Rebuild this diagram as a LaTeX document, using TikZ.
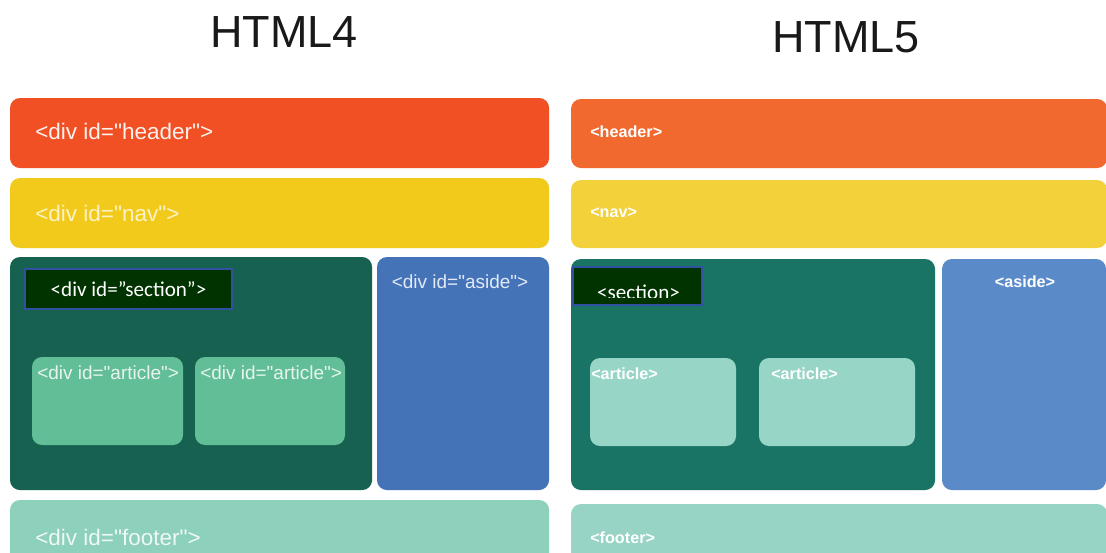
\documentclass[tikz,border=0pt]{standalone}
\usepackage{fontspec}
\setmainfont{Liberation Sans}[Ligatures=TeXOff]
\newfontfamily\calibri{Carlito}
\usetikzlibrary{positioning, calc}

\definecolor{oldhdr}{HTML}{F05023}
\definecolor{oldnav}{HTML}{F2CA1B}
\definecolor{oldsec}{HTML}{16614F}
\definecolor{oldart}{HTML}{62BE97}
\definecolor{oldasd}{HTML}{4473B8}
\definecolor{oldftr}{HTML}{8DD0BB}
\definecolor{newhdr}{HTML}{F1692F}
\definecolor{newnav}{HTML}{F2D13B}
\definecolor{newsec}{HTML}{197465}
\definecolor{newart}{HTML}{97D5C6}
\definecolor{newasd}{HTML}{5A8BC8}
\definecolor{newftr}{HTML}{97D4C5}
\definecolor{tagfill}{HTML}{003300}
\definecolor{tagline}{HTML}{3050A0}

\begin{document}
\begin{tikzpicture}[
			x=0.025cm, y=-0.025cm,
			boxnode/.style={rectangle, rounded corners=0.25cm, anchor=north west, inner sep=0pt, outer sep=0pt},
			tagbox/.style={rectangle, fill=tagfill, draw=tagline, line width=0.8pt, anchor=north west, inner sep=0pt, outer sep=0pt, text=white, font=\calibri\fontsize{15}{18}\selectfont},
			oldtext/.style={inner sep=0pt, anchor=west, font=\fontsize{16}{19}\selectfont},
			oldsmall/.style={inner sep=0pt, anchor=west, font=\fontsize{13.5}{16}\selectfont},
			newtext/.style={inner sep=0pt, anchor=west, text=white, font=\bfseries\fontsize{11.5}{14}\selectfont},
			titlenode/.style={inner sep=0pt, text=black!90, font=\fontsize{32}{38}\selectfont}
			]
			\useasboundingbox (0,0) rectangle (1106,553);
			\clip (0,0) rectangle (1106,553);
			\fill[white] (0,0) rectangle (1106,553);
			
			% Titles
			\node[titlenode] (t4) at (284,32) {HTML4};
			\node[titlenode] (t5) at (846,37) {HTML5};
			
			% HTML4 boxes
			\node[boxnode, fill=oldhdr, minimum width=13.475cm, minimum height=1.75cm] (hdr4) at (10,98) {};
			\node[boxnode, fill=oldnav, minimum width=13.475cm, minimum height=1.75cm] (nav4) at (10,178) {};
			\node[boxnode, fill=oldsec, minimum width=9.05cm, minimum height=5.825cm] (sec4) at (10,257) {};
			\node[boxnode, fill=oldasd, minimum width=4.3cm, minimum height=5.825cm] (asd4) at (377,257) {};
			\node[boxnode, fill=oldart, minimum width=3.775cm, minimum height=2.2cm] (art4a) at (32,357) {};
			\node[boxnode, fill=oldart, minimum width=3.75cm, minimum height=2.2cm] (art4b) at (195,357) {};
			\node[boxnode, fill=oldftr, minimum width=13.475cm, minimum height=1.75cm] (ftr4) at (10,500) {};
			\node[tagbox, minimum width=5.175cm, minimum height=1cm] (tag4) at (25,269) {<div id=”section”>};
			
			% HTML4 labels
			\node[oldtext, text=white!92!oldhdr] (hdr4t) at ($(hdr4.west)+(25,-2)$) {<div id="header">};
			\node[oldtext, text=white!75!oldnav] (nav4t) at ($(nav4.west)+(25,0)$) {<div id="nav">};
			\node[oldtext, text=white!85!oldftr] (ftr4t) at ($(ftr4.north west)+(25,37)$) {<div id="footer">};
			\node[oldsmall, text=white!85!oldart] (art4at) at ($(art4a.north west)+(5,16)$) {<div id="article">};
			\node[oldsmall, text=white!85!oldart] (art4bt) at ($(art4b.north west)+(5,16)$) {<div id="article">};
			\node[oldsmall, anchor=center, text=white!85!oldasd] (asd4t) at ($(asd4.north)+(-3,25)$) {<div id="aside">};
			
			% HTML5 boxes
			\node[boxnode, fill=newhdr, minimum width=13.4cm, minimum height=1.725cm] (hdr5) at (571,99) {};
			\node[boxnode, fill=newnav, minimum width=13.4cm, minimum height=1.7cm] (nav5) at (571,180) {};
			\node[boxnode, fill=newsec, minimum width=9.1cm, minimum height=5.775cm] (sec5) at (571,259) {};
			\node[boxnode, fill=newasd, minimum width=4.1cm, minimum height=5.775cm] (asd5) at (942,259) {};
			\node[boxnode, fill=newart, minimum width=3.65cm, minimum height=2.2cm] (art5a) at (590,358) {};
			\node[boxnode, fill=newart, minimum width=3.9cm, minimum height=2.2cm] (art5b) at (759,358) {};
			\node[boxnode, fill=newftr, minimum width=13.4cm, minimum height=1.75cm] (ftr5) at (571,504) {};
			\node[tagbox, minimum width=3.225cm, minimum height=0.95cm] (tag5) at (573,267) {};
			\begin{scope}
				\clip (tag5.north west) rectangle ($(tag5.south east)+(0,-8)$);
				\node[inner sep=0pt, anchor=base, text=white, font=\calibri\fontsize{15}{18}\selectfont] (tag5t) at ($(tag5.south)+(1,-6)$) {<section>};
			\end{scope}
			
			% HTML5 labels
			\node[newtext] (hdr5t) at ($(hdr5.west)+(19,-2)$) {<header>};
			\node[newtext] (nav5t) at ($(nav5.west)+(19,-1)$) {<nav>};
			\node[newtext] (ftr5t) at ($(ftr5.north west)+(19,34)$) {<footer>};
			\node[newtext] (art5at) at ($(art5a.north west)+(1,16)$) {<article>};
			\node[newtext] (art5bt) at ($(art5b.north west)+(12,16)$) {<article>};
			\node[newtext, anchor=center] (asd5t) at ($(asd5.north)+(1,23)$) {<aside>};
		\end{tikzpicture}
\end{document}
